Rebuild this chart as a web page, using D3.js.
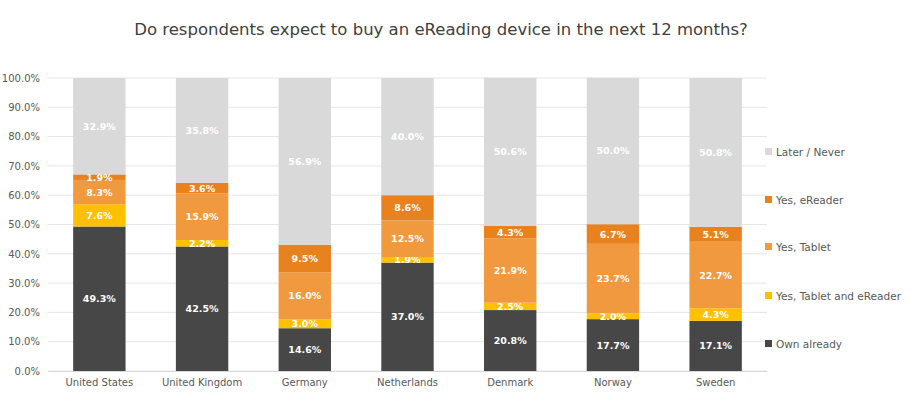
<!DOCTYPE html>
<html><head><meta charset="utf-8">
<script src="https://cdn.jsdelivr.net/npm/d3@7"></script>
<style>body{margin:0;background:#fff;font-family:"DejaVu Sans",Verdana,sans-serif}</style>
</head><body><svg id="c" width="915" height="408"></svg>
<script>
const categories=["United States","United Kingdom","Germany","Netherlands","Denmark","Norway","Sweden"];
const seriesNames=["Own already","Yes, Tablet and eReader","Yes, Tablet","Yes, eReader","Later / Never"];
const ownAlready=[49.3,42.5,14.6,37.0,20.8,17.7,17.1];
const tabletAndEReader=[7.6,2.2,3.0,1.9,2.5,2.0,4.3];
const tablet=[8.3,15.9,16.0,12.5,21.9,23.7,22.7];
const eReader=[1.9,3.6,9.5,8.6,4.3,6.7,5.1];
const laterNever=[32.9,35.8,56.9,40.0,50.6,50.0,50.8];
const yTicks=[0,10,20,30,40,50,60,70,80,90,100];
const colors=["#474747","#ffc000","#f0993f","#e8821e","#d9d9d9"];
const series=[ownAlready,tabletAndEReader,tablet,eReader,laterNever];

const svg=d3.select("#c");
svg.append("text").attr("x",441).attr("y",35).attr("text-anchor","middle")
 .attr("font-size",16.5).attr("fill","#404040").text("Do respondents expect to buy an eReading device in the next 12 months?");
const x=d3.scaleBand().domain(categories).range([48,767]).paddingInner(0.49).paddingOuter(0.245);
const y=d3.scaleLinear().domain([0,100]).range([371,78]);
const g=svg.append("g");
g.selectAll("line.grid").data(yTicks).join("line").attr("x1",48).attr("x2",767)
 .attr("y1",d=>y(d)).attr("y2",d=>y(d)).attr("stroke","#e6e6e6");
const ya=svg.append("g").attr("transform","translate(48,0)")
 .call(d3.axisLeft(y).tickValues(yTicks).tickFormat(d=>d.toFixed(1)+"%").tickSize(0).tickPadding(8));
ya.select(".domain").remove();
ya.selectAll("text").attr("font-size",10).attr("fill","#595959").attr("font-family","DejaVu Sans");
const xa=svg.append("g").attr("transform","translate(0,371)").call(d3.axisBottom(x).tickSize(0).tickPadding(8));
xa.select(".domain").attr("stroke","#d9d9d9");
xa.selectAll("text").attr("font-size",10).attr("fill","#595959").attr("font-family","DejaVu Sans");
categories.forEach((c,i)=>{
 let cum=0;
 series.forEach((s,k)=>{
  const v=s[i],y0=cum,y1=cum+v;cum=y1;
  svg.append("rect").attr("x",x(c)).attr("width",x.bandwidth()).attr("y",y(y1)).attr("height",y(y0)-y(y1)).attr("fill",colors[k]);
  svg.append("text").attr("x",x(c)+x.bandwidth()/2).attr("y",y((y0+y1)/2)+3.5).attr("text-anchor","middle")
   .attr("font-size",9.5).attr("font-weight","bold").attr("fill","#fff").text(v.toFixed(1)+"%");
 });
});
const ly=[344,296,247,200,152];
seriesNames.forEach((n,k)=>{
 svg.append("rect").attr("x",765).attr("y",ly[k]-4).attr("width",7).attr("height",7).attr("fill",colors[k]);
 svg.append("text").attr("x",776).attr("y",ly[k]+3.5).attr("font-size",10.5).attr("fill","#595959").text(n);
});
</script></body></html>
